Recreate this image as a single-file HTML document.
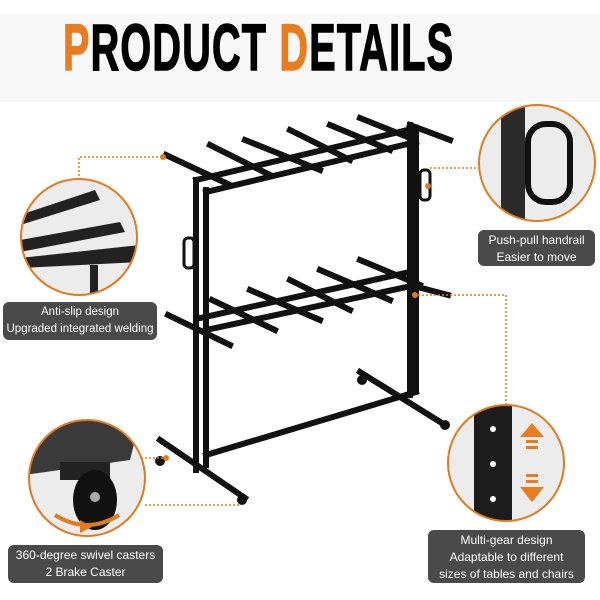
<!DOCTYPE html>
<html><head><style>
body{margin:0;width:600px;height:600px;background:#fff;overflow:hidden;font-family:"Liberation Sans",sans-serif}
.t{position:absolute;left:0;top:14px;width:600px;height:88px;background:#f8f8f8}
.h{position:absolute;top:14px;left:63px;font-family:"Liberation Sans",sans-serif;font-weight:bold;font-size:66px;letter-spacing:2px;transform:scaleX(0.6);transform-origin:left;white-space:nowrap;line-height:66px;-webkit-text-stroke:1.5px currentColor}
.o{color:#e87c1e}
.lb{position:absolute;background:#4a4a4a;color:#fff;border-radius:6px;text-align:center;font-size:12px;line-height:17px;padding-top:2px;white-space:nowrap}
</style></head><body>
<div class="t"></div>
<div class="h"><span class="o">P</span>RODUCT <span class="o">D</span>ETAILS</div>
<svg width="600" height="600" style="position:absolute;left:0;top:0">
<g stroke="#111" stroke-width="6" stroke-linecap="square" fill="none">
<line x1="196" y1="180" x2="196" y2="470"/><line x1="206" y1="190" x2="206" y2="465"/>
<line x1="410" y1="125" x2="410" y2="395"/><line x1="416" y1="130" x2="416" y2="390"/>
<line x1="196" y1="180" x2="416" y2="128"/><line x1="206" y1="192" x2="416" y2="142"/>
<line x1="206" y1="330" x2="416" y2="285"/><line x1="200" y1="318" x2="410" y2="272"/>
<line x1="206" y1="455" x2="416" y2="392"/>
<line x1="160" y1="440" x2="245" y2="498"/><line x1="360" y1="372" x2="445" y2="425"/>
<line x1="166" y1="155" x2="230" y2="185"/><line x1="210" y1="145" x2="270" y2="175"/>
<line x1="245" y1="140" x2="320" y2="170"/><line x1="290" y1="130" x2="350" y2="160"/>
<line x1="330" y1="125" x2="390" y2="150"/><line x1="360" y1="118" x2="415" y2="140"/>
<line x1="410" y1="125" x2="450" y2="140"/>
<line x1="168" y1="315" x2="230" y2="345"/><line x1="212" y1="300" x2="275" y2="330"/>
<line x1="250" y1="290" x2="320" y2="320"/><line x1="290" y1="280" x2="350" y2="310"/>
<line x1="320" y1="270" x2="390" y2="300"/><line x1="360" y1="260" x2="420" y2="285"/>
<line x1="410" y1="285" x2="448" y2="295"/>
</g>
<g stroke="#111" stroke-width="3" fill="none"><rect x="184" y="238" width="10" height="30" rx="4"/><rect x="420" y="170" width="10" height="30" rx="4"/></g>
<g fill="#111"><circle cx="160" cy="461" r="5"/><circle cx="242" cy="500" r="5"/><circle cx="362" cy="380" r="5"/><circle cx="445" cy="425" r="5"/></g>
<g stroke="#e07b20" stroke-width="1.5" stroke-dasharray="2,2" fill="none">
<polyline points="79,180 79,157 163,157"/><polyline points="430,168 478,168"/>
<polyline points="125,458 166,458"/><polyline points="145,505 240,505"/>
<polyline points="506,405 506,295 415,295"/></g>
<g fill="#e07b20"><circle cx="163" cy="157" r="3"/><circle cx="428" cy="186" r="3"/><circle cx="166" cy="458" r="3"/><circle cx="415" cy="295" r="3"/></g>
<defs>
<clipPath id="c1"><circle cx="79" cy="237" r="58"/></clipPath>
<clipPath id="c2"><circle cx="537" cy="163" r="58"/></clipPath>
<clipPath id="c3"><circle cx="87" cy="478" r="58"/></clipPath>
<clipPath id="c4"><circle cx="506" cy="463" r="58"/></clipPath>
</defs>
<circle cx="79" cy="237" r="58" fill="#ececec"/>
<g clip-path="url(#c1)" fill="#222"><polygon points="20,215 95,190 100,200 20,225"/><polygon points="20,240 120,222 125,232 20,252"/><polygon points="20,258 140,245 140,262 20,268"/><rect x="90" y="265" width="8" height="30"/></g>
<circle cx="79" cy="237" r="58" fill="none" stroke="#e07b20" stroke-width="2"/>
<circle cx="537" cy="163" r="58" fill="#ececec"/>
<g clip-path="url(#c2)"><rect x="501" y="100" width="24" height="130" fill="#2a2a2a"/><rect x="528" y="124" width="42" height="78" rx="18" fill="none" stroke="#111" stroke-width="6"/></g>
<circle cx="537" cy="163" r="58" fill="none" stroke="#e07b20" stroke-width="2"/>
<circle cx="87" cy="478" r="58" fill="#ececec"/>
<g clip-path="url(#c3)"><polygon points="25,420 140,420 130,460 25,475" fill="#3a3a3a"/><rect x="60" y="462" width="50" height="18" fill="#222"/><ellipse cx="95" cy="500" rx="22" ry="30" fill="#111"/><circle cx="95" cy="497" r="5" fill="#aaa"/></g>
<path d="M55,515 Q87,535 119,515" stroke="#e07b20" stroke-width="4" fill="none"/><polygon points="80,520 92,527 80,533" fill="#e07b20"/>
<circle cx="87" cy="478" r="58" fill="none" stroke="#e07b20" stroke-width="2"/>
<circle cx="506" cy="463" r="58" fill="#ececec"/>
<g clip-path="url(#c4)"><rect x="474" y="400" width="38" height="130" fill="#1c1c1c"/></g>
<g fill="#fff"><circle cx="493" cy="429" r="3"/><circle cx="493" cy="464" r="3"/><circle cx="493" cy="499" r="3"/></g>
<g fill="#e87c1e"><polygon points="532,423 544,437 520,437"/><rect x="526" y="440" width="12" height="3"/><rect x="526" y="446" width="12" height="3"/>
<rect x="526" y="474" width="12" height="3"/><rect x="526" y="480" width="12" height="3"/><polygon points="520,487 544,487 532,502"/></g>
<circle cx="506" cy="463" r="58" fill="none" stroke="#e07b20" stroke-width="2"/>
</svg>
<div class="lb" style="left:3px;top:302px;width:154px;height:36px;font-size:11.5px">Anti-slip design<br>Upgraded integrated welding</div>
<div class="lb" style="left:478px;top:230px;width:117px;height:34px">Push-pull handrail<br>Easier to move</div>
<div class="lb" style="left:8px;top:545px;width:155px;height:36px">360-degree swivel casters<br>2 Brake Caster</div>
<div class="lb" style="left:428px;top:530px;width:157px;height:51px">Multi-gear design<br>Adaptable to different<br>sizes of tables and chairs</div>
</body></html>
